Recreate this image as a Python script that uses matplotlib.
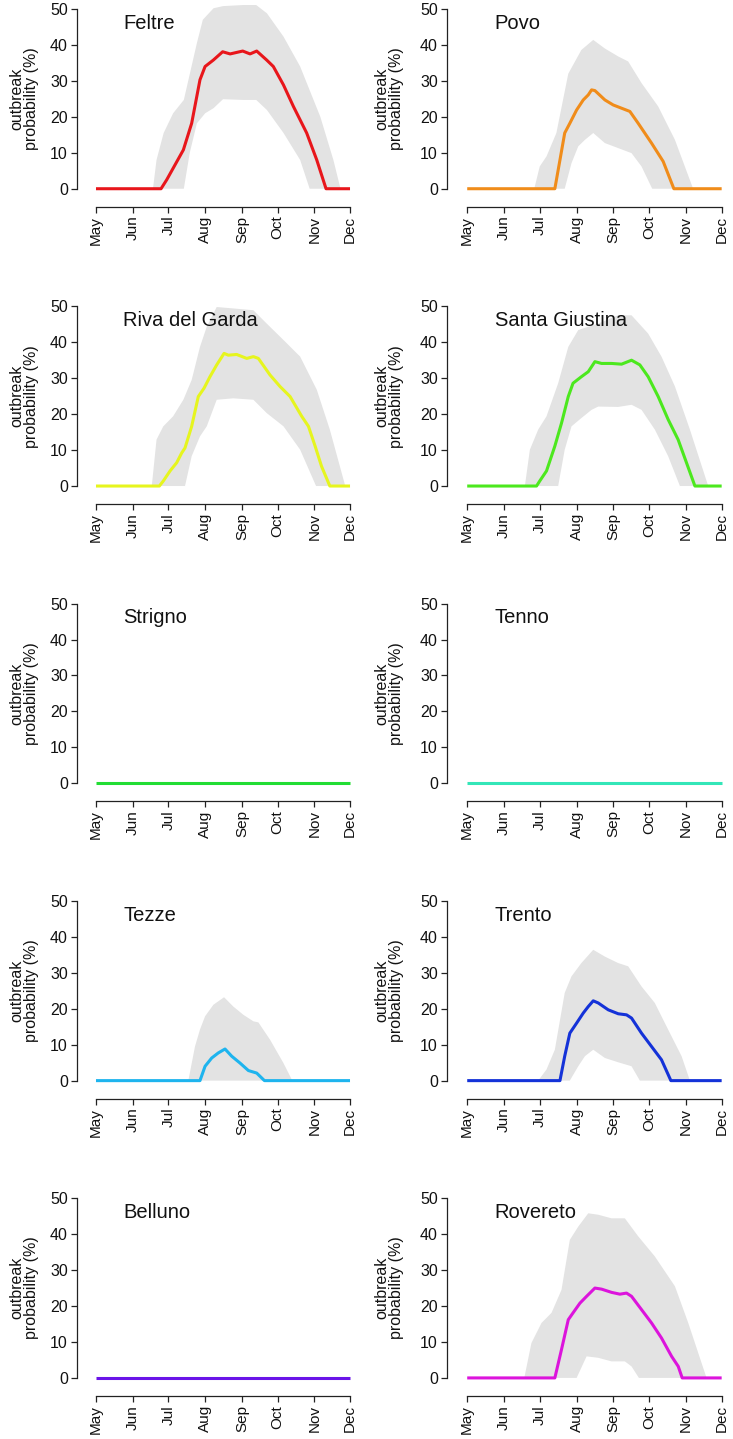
import numpy as np
import matplotlib.pyplot as plt

plt.rcParams['font.family'] = ['Liberation Sans', 'DejaVu Sans']

# x values are days since 1 May
month_days = [0, 31, 61, 92, 123, 153, 184, 214]
month_labels = ['May', 'Jun', 'Jul', 'Aug', 'Sep', 'Oct', 'Nov', 'Dec']

site_names = ['Feltre', 'Povo', 'Riva del Garda', 'Santa Giustina', 'Strigno',
              'Tenno', 'Tezze', 'Trento', 'Belluno', 'Rovereto']
site_colors = ['#E8161B', '#F08C1A', '#E6F51E', '#4CE81E', '#22DD33',
               '#33E6B8', '#1EB4EE', '#1432D8', '#6A14E8', '#DC14DC']

# Feltre
feltre_day = [0, 54.8, 59.6, 65, 73.6, 80.6, 87.6, 91.9, 98.9, 106.7, 113, 123.6, 129.8,
              135.4, 143.8, 149.4, 157.9, 166.3, 177.5, 186, 193.8, 214]
feltre_mean = [0, 0, 2.5, 5.7, 10.8, 18.2, 30.3, 34, 35.8, 38.1, 37.5, 38.3, 37.5,
               38.3, 35.8, 34, 28.9, 22.9, 15.5, 8, 0, 0]
feltre_hi_day = [48, 51, 57, 65, 74, 85, 90, 99, 107, 124, 135, 144, 158, 172, 189, 200, 206]
feltre_hi = [0, 8, 15.5, 21, 24.7, 40.5, 47, 50.2, 50.8, 51.1, 51.1, 48.8, 42.3, 34, 20, 8, 0]
feltre_lo_day = [48, 74, 79, 85, 92, 99, 107, 124, 135, 144, 158, 172, 180, 206]
feltre_lo = [0, 0, 10, 18.2, 21, 22.4, 24.9, 24.7, 24.7, 21.9, 15.5, 8, 0, 0]

# Povo
povo_day = [0, 73.7, 78, 82, 86.3, 92, 97.6, 101.8, 104.6, 107.4, 115.8, 122.8, 129.8,
            136.8, 143.8, 155, 164.8, 173.8, 214]
povo_mean = [0, 0, 8, 15.5, 18.2, 21.9, 24.7, 26.1, 27.5, 27.3, 24.7, 23.3, 22.4,
             21.5, 18.2, 12.7, 7.6, 0, 0]
povo_hi_day = [56.4, 61, 66.7, 75, 85, 96, 106, 115.8, 127, 135.4, 146.6, 160.6, 174.7, 190]
povo_hi = [0, 6.2, 9, 15.5, 32, 38.6, 41.4, 39, 36.8, 35.4, 29.4, 22.9, 13.6, 0]
povo_lo_day = [56.4, 82, 87.7, 93.4, 99, 106, 115.8, 127, 138.2, 146.6, 155.6, 190]
povo_lo = [0, 0, 7.1, 11.8, 13.6, 15.5, 12.7, 11.3, 9.9, 6.2, 0, 0]

# Riva del Garda
riva_day = [0, 53.4, 56.7, 62.4, 68, 72.2, 75, 80.6, 86.2, 91, 96, 101.7, 107.9, 111.5,
            118.5, 127, 132.6, 136.8, 146.6, 155, 163.5, 173.3, 179, 184.6, 190, 197, 214]
riva_mean = [0, 0, 1.4, 4.2, 6.5, 9.2, 10.6, 16.6, 24.9, 27.2, 30.4, 33.7, 36.9, 36.4,
             36.6, 35.5, 36, 35.5, 30.9, 27.7, 24.9, 19.4, 16.6, 11.1, 5.5, 0, 0]
riva_hi_day = [47, 51, 56.7, 65, 73.6, 80.6, 87.6, 93.3, 101.7, 115.7, 132.6, 143.8, 158,
               172, 186, 197, 210]
riva_hi = [0, 12.9, 16.6, 19.4, 24, 29.5, 38.7, 44.3, 49.8, 49.4, 48.9, 45.2, 40.6,
           36, 26.8, 15.7, 0]
riva_lo_day = [47, 75, 80.6, 87.6, 93.3, 101.7, 115.7, 132.6, 143.8, 158, 172, 185.4, 210]
riva_lo = [0, 0, 8.3, 13.8, 16.6, 24, 24.4, 24, 20.3, 16.6, 10.1, 0, 0]

# Santa Giustina
sg_day = [0, 58.3, 61, 66.7, 73.7, 79.3, 85, 89, 96, 101.8, 107.4, 113, 121.4, 129.8,
          138.2, 145.2, 152.2, 160.6, 169, 177.4, 184.4, 191.5, 214]
sg_mean = [0, 0, 1.4, 4.2, 11.1, 17.5, 24.9, 28.6, 30.4, 31.8, 34.6, 34.1, 34.1, 33.9,
           35, 33.7, 30.4, 24.9, 18.5, 12.9, 6.5, 0, 0]
sg_hi_day = [48.5, 52.7, 59.7, 66.7, 76.5, 85, 93.4, 110.2, 127, 138.2, 152.2, 163.4,
             174.7, 187.3, 202.7]
sg_hi = [0, 10.1, 15.7, 19.4, 28.6, 38.7, 43.4, 45.2, 47.5, 47.5, 42.4, 36, 27.7, 15.7, 0]
sg_lo_day = [48.5, 76.5, 82, 87.7, 96, 104.6, 110.2, 127, 138.2, 146.6, 157.8, 169, 178.9, 202.7]
sg_lo = [0, 0, 10.1, 16.6, 18.9, 21.2, 22.1, 22, 22.6, 21.2, 15.7, 8.3, 0, 0]

# Tezze
tezze_day = [0, 87.6, 91.9, 97.5, 103, 108.7, 114.3, 121.3, 128.4, 135.4, 141.9, 214]
tezze_mean = [0, 0, 4, 6.3, 7.7, 8.8, 6.8, 4.9, 2.8, 2.1, 0, 0]
tezze_hi_day = [77.8, 83.4, 87.6, 91.9, 98.9, 107.9, 115.7, 124.2, 132.6, 136.8, 146.6,
                157.9, 165.4]
tezze_hi = [0, 9.5, 14.2, 17.9, 21.1, 23.2, 20.6, 18.3, 16.5, 16.2, 11.4, 4.9, 0]
tezze_lo_day = [77.8, 165.4]
tezze_lo = [0, 0]

# Trento
trento_day = [0, 78, 82, 86.3, 92, 97.6, 101.8, 106, 110.2, 118.6, 127, 134, 138.2,
              146.6, 155, 163.4, 171.3, 214]
trento_mean = [0, 0, 6.8, 13.2, 16, 18.8, 20.6, 22.2, 21.6, 19.7, 18.6, 18.3, 17.4,
               13.2, 9.5, 5.8, 0, 0]
trento_hi_day = [59.7, 66.7, 73.7, 82, 87.7, 96, 106, 115.8, 127, 135.4, 146.6, 157.8,
                 169, 180.3, 187.3]
trento_hi = [0, 3.1, 8.6, 24.4, 29, 32.7, 36.4, 34.5, 32.7, 31.8, 26.2, 21.6, 14.2, 6.8, 0]
trento_lo_day = [59.7, 86.3, 93.4, 99, 106, 115.8, 127, 138.2, 145.2, 187.3]
trento_lo = [0, 0, 4, 6.8, 8.6, 6.3, 5.1, 4, 0, 0]

# Rovereto
rov_day = [0, 73.7, 79.3, 85, 89, 94.8, 100.4, 107.4, 113, 121.4, 128.4, 134, 138.2,
           146.6, 155, 163.4, 171.9, 177.5, 180.8, 214]
rov_mean = [0, 0, 7.9, 16.2, 18.1, 20.8, 22.7, 25, 24.7, 23.8, 23.3, 23.6, 22.7,
            19, 15.3, 11.1, 6, 3.2, 0, 0]
rov_hi_day = [48, 54, 62.5, 70.9, 79.3, 86.3, 93.4, 101.8, 110.2, 121.4, 132.6, 143.8,
              157.8, 174.7, 185.9, 201.3]
rov_hi = [0, 9.7, 15.3, 18.1, 24.5, 38.4, 42.1, 45.8, 45.4, 44.4, 44.4, 39.4, 33.8,
          25.5, 15.3, 0]
rov_lo_day = [48, 92, 100.4, 110.2, 121.4, 132.6, 138.2, 144.4, 201.3]
rov_lo = [0, 0, 6, 5.6, 4.6, 4.6, 3.2, 0, 0]

# sites with no outbreak at all
flat_day = [0, 214]
flat_mean = [0, 0]

series = {
    'Feltre': (feltre_day, feltre_mean, feltre_hi_day, feltre_hi, feltre_lo_day, feltre_lo),
    'Povo': (povo_day, povo_mean, povo_hi_day, povo_hi, povo_lo_day, povo_lo),
    'Riva del Garda': (riva_day, riva_mean, riva_hi_day, riva_hi, riva_lo_day, riva_lo),
    'Santa Giustina': (sg_day, sg_mean, sg_hi_day, sg_hi, sg_lo_day, sg_lo),
    'Tezze': (tezze_day, tezze_mean, tezze_hi_day, tezze_hi, tezze_lo_day, tezze_lo),
    'Trento': (trento_day, trento_mean, trento_hi_day, trento_hi, trento_lo_day, trento_lo),
    'Rovereto': (rov_day, rov_mean, rov_hi_day, rov_hi, rov_lo_day, rov_lo),
}

W, H = 733, 1439
fig = plt.figure(figsize=(W / 100, H / 100), dpi=100)

ymin, ymax = -5, 52
row_step = 297.3
axis_col = '#222222'

for i, name in enumerate(site_names):
    row, col = i // 2, i % 2
    if col == 0:
        spine_px, px_per_day, xlo = 77, 1.187, -16
        lab_px = 24
    else:
        spine_px, px_per_day, xlo = 447, 1.189, -17
        lab_px = 389
    xhi = 224
    width_px = (xhi - xlo) * px_per_day
    top_px = 1.8 + row_step * row
    bot_px = 206.7 + row_step * row
    ax = fig.add_axes([spine_px / W, 1 - bot_px / H, width_px / W, (bot_px - top_px) / H])
    ax.set_xlim(xlo, xhi)
    ax.set_ylim(ymin, ymax)
    ax.patch.set_alpha(0)

    if name in series:
        d, m, hd, hv, ld, lv = series[name]
        ax.fill(np.r_[hd, ld[::-1]], np.r_[hv, lv[::-1]], color='#E3E3E3', lw=0, zorder=1)
    else:
        d, m = flat_day, flat_mean
    ax.plot(d, m, color=site_colors[i], lw=2.2, solid_capstyle='butt',
            solid_joinstyle='round', zorder=3)

    ax.text(23, 46, name, fontsize=14.5, ha='left', va='center', color='#111111')

    for s in ['top', 'right']:
        ax.spines[s].set_visible(False)
    ax.spines['left'].set_bounds(0, 50)
    ax.spines['bottom'].set_bounds(0, 214)
    for s in ['left', 'bottom']:
        ax.spines[s].set_color(axis_col)
        ax.spines[s].set_linewidth(0.9)
    ax.set_yticks([0, 10, 20, 30, 40, 50])
    ax.set_xticks(month_days)
    ax.set_xticklabels(month_labels, rotation=90)
    ax.tick_params(axis='both', direction='out', length=4.5, width=0.9, color=axis_col,
                   labelsize=11.5, labelcolor='#111111', pad=2)
    ax.tick_params(axis='x', labelsize=11)

    ax.set_ylabel('outbreak\nprobability (%)', fontsize=11.5, color='#111111',
                  linespacing=0.95, va='center', ha='center')
    ax.yaxis.set_label_coords((lab_px - spine_px) / width_px, (25 - ymin) / (ymax - ymin))

fig.savefig('out.png', dpi=100)
